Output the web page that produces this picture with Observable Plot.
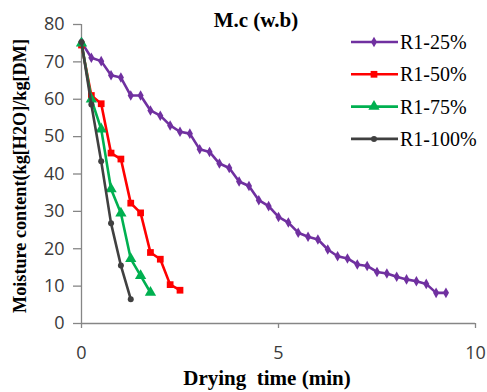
<!DOCTYPE html>
<html>
<head>
<meta charset="utf-8">
<script src="https://cdn.jsdelivr.net/npm/d3@7"></script>
<script src="https://cdn.jsdelivr.net/npm/@observablehq/plot@0.6"></script>
<style>
  html, body { margin: 0; padding: 0; background: #fff; }
  #chart { width: 487px; height: 392px; position: relative; }
</style>
</head>
<body>
<div id="chart"></div>
<script>
// ---- data ----
const seriesNames = ["R1-25%", "R1-50%", "R1-75%", "R1-100%"];
const seriesColors = ["#7030A0", "#FF0000", "#00B050", "#404040"];
const seriesSymbols = ["diamond", "square", "triangle", "circle"];
const seriesSizes = [3.2, 3.8, 4.2, 3.0];

const time25 = [0, 0.25, 0.5, 0.75, 1.0, 1.25, 1.5, 1.75, 2.0, 2.25, 2.5, 2.75, 3.0, 3.25, 3.5, 3.75,
  4.0, 4.25, 4.5, 4.75, 5.0, 5.25, 5.5, 5.75, 6.0, 6.25, 6.5, 6.75, 7.0, 7.25, 7.5, 7.75,
  8.0, 8.25, 8.5, 8.75, 9.0, 9.25];
const mc25 = [75.3, 71.1, 70.2, 66.4, 65.8, 61.0, 61.0, 57.0, 55.6, 53.0, 51.3, 50.8, 46.6, 45.9, 42.8, 41.6,
  38.0, 36.8, 33.0, 31.4, 28.5, 27.0, 24.3, 23.2, 22.5, 19.8, 18.0, 17.4, 15.8, 15.4, 13.8, 13.4,
  12.5, 11.8, 11.3, 10.6, 8.2, 8.2];

const time50 = [0, 0.25, 0.5, 0.75, 1.0, 1.25, 1.5, 1.75, 2.0, 2.25, 2.5];
const mc50 = [74.5, 61.0, 58.8, 45.6, 44.0, 32.2, 29.6, 19.0, 17.2, 10.4, 8.9];

const time75 = [0, 0.25, 0.5, 0.75, 1.0, 1.25, 1.5, 1.75];
const mc75 = [75.0, 60.0, 52.0, 36.0, 29.5, 17.3, 12.8, 8.3];

const time100 = [0, 0.25, 0.5, 0.75, 1.0, 1.25];
const mc100 = [75.3, 58.6, 43.4, 26.8, 15.5, 6.5];

const xTicks = [0, 5, 10];
const yTicks = [0, 10, 20, 30, 40, 50, 60, 70, 80];

const titleText = "M.c (w.b)";
const xLabel = "Drying  time (min)";
const yLabel = "Moisture content(kg[H2O]/kg[DM]";

// ---- build table ----
const times = [time25, time50, time75, time100];
const values = [mc25, mc50, mc75, mc100];
const data = [];
seriesNames.forEach((name, s) => {
  times[s].forEach((t, i) => data.push({series: name, t, mc: values[s][i]}));
});

const lineMarks = [];
seriesNames.forEach((name, s) => {
  const d = data.filter(r => r.series === name);
  lineMarks.push(Plot.line(d, {x: "t", y: "mc", stroke: seriesColors[s], strokeWidth: 2.6}));
  lineMarks.push(Plot.dot(d, {x: "t", y: "mc", symbol: () => seriesSymbols[s], fill: seriesColors[s],
    r: seriesSizes[s], stroke: "none"}));
});

const chart = Plot.plot({
  width: 487,
  height: 392,
  marginLeft: 81,
  marginRight: 12,
  marginTop: 24,
  marginBottom: 69,
  style: {fontFamily: "'Open Sans', sans-serif", fontSize: "18px", color: "#3a3a3a", background: "#fff", overflow: "visible"},
  x: {domain: [0, 10], ticks: xTicks, tickSize: 5, tickPadding: 18, label: null},
  y: {domain: [0, 80], ticks: yTicks, tickSize: 8, tickPadding: 9, label: null},
  symbol: {type: "identity"},
  marks: [
    Plot.ruleY([0], {stroke: "#868686", strokeWidth: 1.3}),
    Plot.ruleX([0], {stroke: "#868686", strokeWidth: 1.3}),
    ...lineMarks
  ]
});

document.getElementById("chart").appendChild(chart);
const svg = d3.select(chart);
svg.selectAll('g[aria-label="x-axis"] line, g[aria-label="y-axis"] line, g[aria-label="x-axis tick"] path, g[aria-label="y-axis tick"] path')
  .attr("stroke", "#868686").attr("stroke-width", 1.3);

const serif = "'Liberation Serif', 'Times New Roman', serif";
// title
svg.append("text").attr("x", 256).attr("y", 27).attr("text-anchor", "middle")
  .attr("font-family", serif).attr("font-weight", "bold").attr("font-size", 21).attr("fill", "#000")
  .text(titleText);
// x label
svg.append("text").attr("x", 267).attr("y", 385).attr("text-anchor", "middle")
  .attr("font-family", serif).attr("font-weight", "bold").attr("font-size", 21).attr("fill", "#000")
  .style("white-space", "pre")
  .text(xLabel);
// y label
svg.append("text").attr("transform", "translate(26,176) rotate(-90)").attr("text-anchor", "middle")
  .attr("font-family", serif).attr("font-weight", "bold").attr("font-size", 18.2).attr("fill", "#000")
  .text(yLabel);

// legend
const leg = svg.append("g");
seriesNames.forEach((name, s) => {
  const cy = 42 + s * 32.3;
  leg.append("line").attr("x1", 351).attr("x2", 398).attr("y1", cy).attr("y2", cy)
    .attr("stroke", seriesColors[s]).attr("stroke-width", 2.6);
  leg.append("path").attr("transform", `translate(374,${cy})`)
    .attr("d", d3.symbol(d3["symbol" + seriesSymbols[s][0].toUpperCase() + seriesSymbols[s].slice(1)], Math.PI * seriesSizes[s] * seriesSizes[s])())
    .attr("fill", seriesColors[s]);
  leg.append("text").attr("x", 400).attr("y", cy).attr("dy", "0.35em").attr("text-anchor", "start")
    .attr("font-family", serif).attr("font-size", 20).attr("fill", "#000")
    .text(name);
});
</script>
</body>
</html>
